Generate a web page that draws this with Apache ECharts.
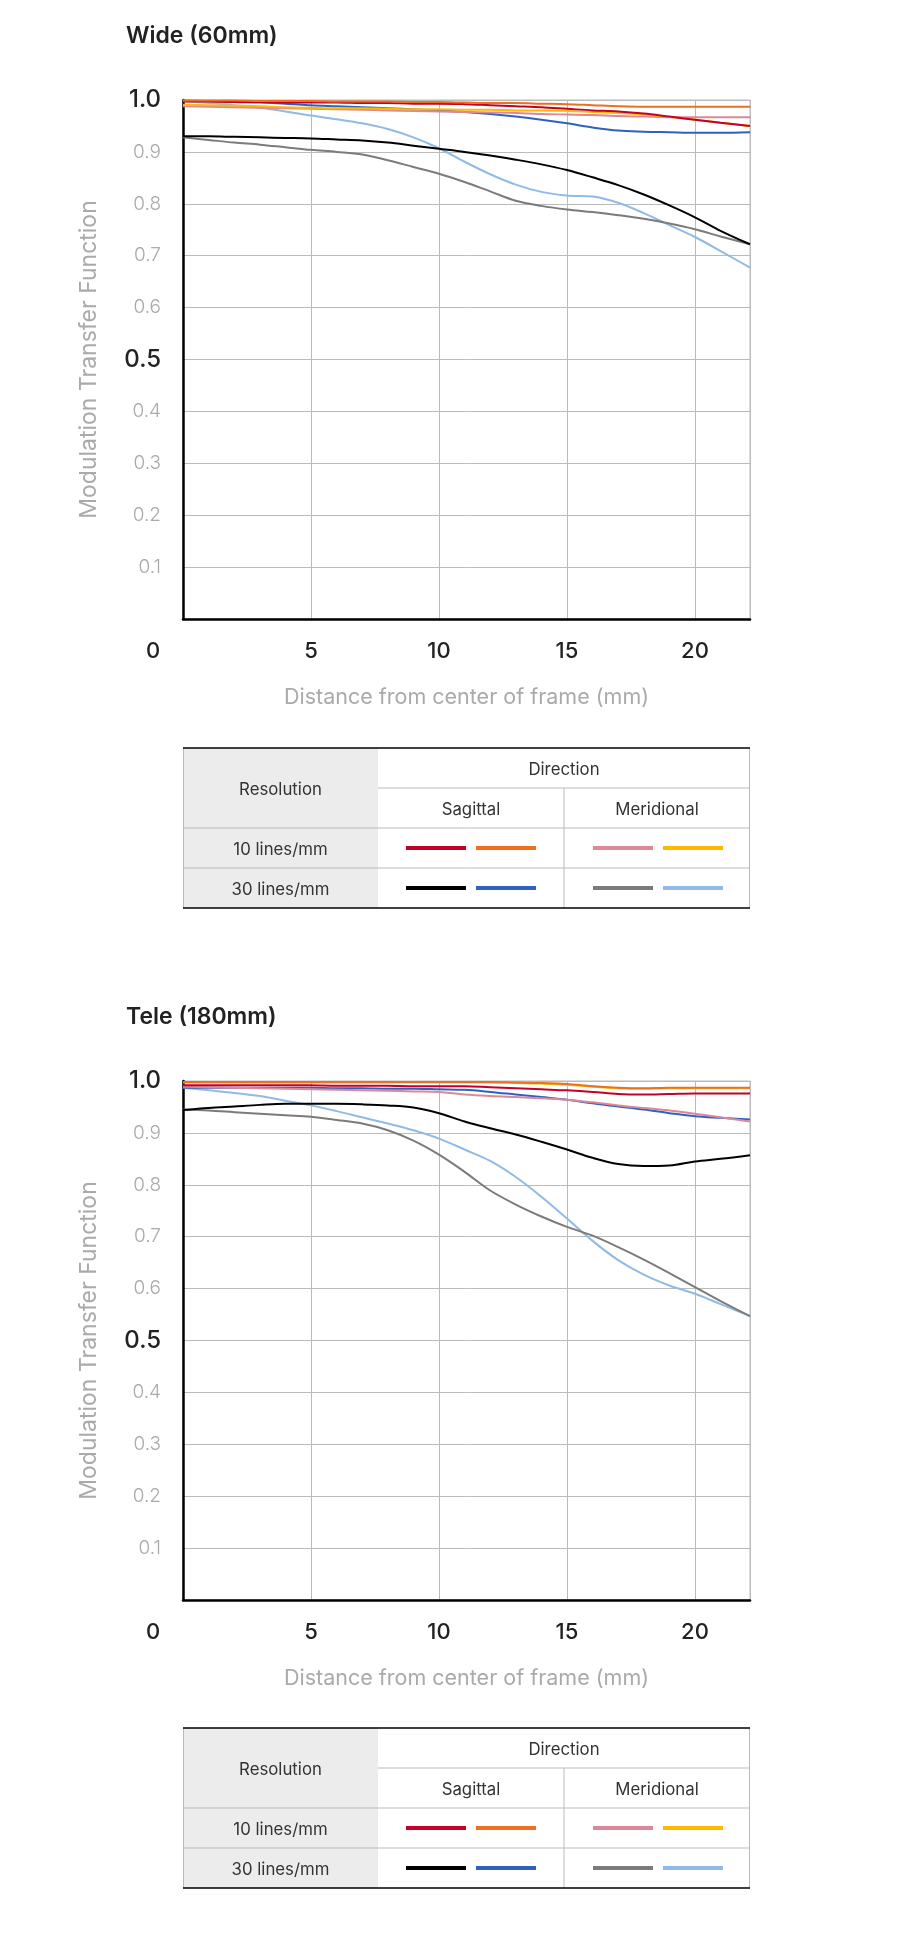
<!DOCTYPE html>
<html>
<head>
<meta charset="utf-8">
<script src="https://cdn.jsdelivr.net/npm/echarts@6/dist/echarts.min.js"></script>
<style>
  html, body { margin: 0; padding: 0; background: #fff; }
  #main { width: 900px; height: 1955px; }
</style>
</head>
<body>
<div id="main"></div>
<script>
// distance from center of frame (mm)
var dist = [0, 1, 2, 3, 4, 5, 6, 7, 8, 9, 10, 11, 12, 13, 14, 15, 16, 17, 18, 19, 20, 21, 22.15]

// Wide (60mm)
var wideSag10a = [.997, .997, .996, .996, .995, .995, .995, .994, .994, .993, .993, .992, .990, .988, .986, .983, .980, .978, .974, .968, .962, .956, .950]
var wideSag10b = [.999, .999, .999, .998, .998, .998, .997, .997, .997, .996, .996, .995, .994, .994, .993, .992, .990, .988, .987, .987, .987, .987, .987]
var wideMer10a = [.988, .987, .986, .985, .984, .983, .982, .981, .980, .979, .978, .977, .976, .975, .973, .972, .971, .969, .968, .967, .967, .967, .967]
var wideMer10b = [.991, .990, .989, .988, .986, .985, .984, .984, .983, .982, .982, .981, .981, .980, .980, .979, .977, .975, .972, .967, .962, .956, .950]
var wideSag30a = [.930, .930, .929, .928, .927, .926, .924, .922, .918, .912, .906, .900, .893, .885, .876, .865, .851, .836, .818, .797, .774, .748, .722]
var wideSag30b = [.999, .998, .996, .995, .993, .990, .988, .986, .984, .982, .980, .977, .973, .968, .962, .955, .947, .941, .939, .938, .937, .937, .938]
var wideMer30a = [.928, .923, .918, .914, .909, .904, .900, .895, .884, .871, .858, .842, .824, .806, .796, .789, .784, .778, .771, .762, .751, .737, .722]
var wideMer30b = [.998, .994, .990, .985, .978, .970, .963, .955, .944, .928, .907, .881, .857, .837, .823, .816, .814, .802, .782, .759, .736, .709, .677]

// Tele (180mm)
var teleSag10a = [.992, .992, .992, .992, .992, .992, .991, .991, .991, .990, .990, .990, .988, .986, .984, .982, .979, .975, .974, .975, .976, .976, .976]
var teleSag10b = [.998, .998, .998, .998, .998, .998, .998, .998, .998, .998, .998, .998, .998, .997, .996, .994, .990, .987, .986, .987, .987, .987, .987]
var teleMer10a = [.989, .988, .987, .986, .985, .984, .983, .982, .981, .980, .979, .974, .971, .969, .967, .964, .959, .953, .948, .943, .937, .930, .922]
var teleMer10b = [.997, .997, .997, .997, .997, .997, .997, .997, .997, .997, .997, .997, .997, .996, .995, .993, .989, .986, .985, .986, .986, .986, .986]
var teleSag30a = [.944, .948, .951, .954, .956, .956, .956, .955, .953, .949, .938, .922, .909, .897, .883, .868, .852, .840, .836, .837, .845, .850, .857]
var teleSag30b = [.987, .987, .987, .987, .987, .987, .986, .986, .985, .985, .984, .983, .979, .974, .969, .964, .957, .951, .945, .938, .932, .929, .926]
var teleMer30a = [.945, .943, .940, .937, .934, .931, .925, .918, .905, .885, .858, .825, .789, .762, .739, .719, .702, .680, .656, .630, .603, .576, .547]
var teleMer30b = [.987, .982, .977, .971, .962, .953, .942, .930, .918, .905, .889, .868, .846, .815, .777, .735, .692, .655, .627, .606, .590, .570, .547]

var yTicks = ['0.1', '0.2', '0.3', '0.4', '0.5', '0.6', '0.7', '0.8', '0.9', '1.0']
var boldTicks = ['0.5', '1.0']

var colors = {
  sag10a: '#c30029', sag10b: '#ec7020',
  mer10a: '#dc8899', mer10b: '#ffb800',
  sag30a: '#000000', sag30b: '#2f62c0',
  mer30a: '#7b7b7b', mer30b: '#8fbbe4'
}

var FONT = 'Inter, Roboto, sans-serif'

function pairs(arr) {
  return dist.map((d, i) => [d, arr[i]])
}

function lineSeries(name, arr, color, idx) {
  return {
    name: name,
    type: 'line',
    xAxisIndex: idx,
    yAxisIndex: idx,
    data: pairs(arr),
    smooth: 0.35,
    symbol: 'none',
    lineStyle: { color: color, width: 2 },
    silent: true
  }
}

function makeX(idx) {
  return {
    type: 'value', gridIndex: idx, min: 0, max: 22.15, interval: 5,
    axisLine: { show: true, onZero: false, lineStyle: { color: '#000', width: 2.5 } },
    axisTick: { show: false },
    splitLine: { show: true, lineStyle: { color: '#bbb', width: 1 } },
    axisLabel: {
      showMaxLabel: false, margin: 21,
      fontSize: 22, color: '#222', fontFamily: FONT, fontWeight: 500,
      formatter: v => v === 0 ? '{z|0}' : String(v),
      rich: { z: { fontSize: 22, color: '#222', fontFamily: FONT, fontWeight: 500, padding: [0, 60, 0, 0] } }
    },
    name: 'Distance from center of frame (mm)',
    nameLocation: 'middle', nameGap: 68,
    nameTextStyle: { fontSize: 21.5, color: '#aaa', fontFamily: FONT, fontWeight: 400 }
  }
}

function makeY(idx) {
  return {
    type: 'value', gridIndex: idx, min: 0, max: 1, interval: 0.1,
    axisLine: { show: true, onZero: false, lineStyle: { color: '#000', width: 2.5 } },
    axisTick: { show: false },
    splitLine: { show: true, lineStyle: { color: '#bbb', width: 1 } },
    axisLabel: {
      margin: 22,
      formatter: function (v) {
        var s = v.toFixed(1)
        if (yTicks.indexOf(s) < 0) return ''
        return boldTicks.indexOf(s) >= 0 ? '{b|' + s + '}' : '{n|' + s + '}'
      },
      rich: {
        b: { fontSize: 24, color: '#222', fontFamily: FONT, fontWeight: 500 },
        n: { fontSize: 19, color: '#aaa', fontFamily: FONT, fontWeight: 300 }
      }
    },
    name: 'Modulation Transfer Function',
    nameLocation: 'middle', nameGap: 82,
    nameTextStyle: { fontSize: 23, color: '#aaa', fontFamily: FONT, fontWeight: 400 }
  }
}

// legend table drawn as graphic
function table(T) {
  var L = 183, R = 750, C1 = 378, C2 = 564
  var grey = '#bbb'
  var els = []
  els.push({ type: 'rect', shape: { x: L, y: T, width: C1 - L, height: 160 }, style: { fill: '#ececec' } })
  function hl(y, x1, x2, c, w) {
    els.push({ type: 'line', shape: { x1: x1, y1: y, x2: x2, y2: y }, style: { stroke: c, lineWidth: w } })
  }
  function vl(x, y1, y2) {
    els.push({ type: 'line', shape: { x1: x, y1: y1, x2: x, y2: y2 }, style: { stroke: grey, lineWidth: 1 } })
  }
  hl(T + 40, C1, R, grey, 1)
  hl(T + 80, L, R, grey, 1)
  hl(T + 120, L, R, grey, 1)
  vl(C2, T + 40, T + 160)
  vl(L + 0.5, T, T + 160)
  vl(R - 0.5, T, T + 160)
  hl(T, L, R, '#000', 1.5)
  hl(T + 160, L, R, '#000', 1.5)
  function txt(s, x, y) {
    els.push({ type: 'text', x: x, y: y + 1.5, style: { text: s, fill: '#333', font: '16.8px ' + FONT, align: 'center', verticalAlign: 'middle' } })
  }
  txt('Resolution', (L + C1) / 2, T + 40)
  txt('Direction', C2, T + 20)
  txt('Sagittal', (C1 + C2) / 2, T + 60)
  txt('Meridional', (C2 + R) / 2, T + 60)
  txt('10 lines/mm', (L + C1) / 2, T + 100)
  txt('30 lines/mm', (L + C1) / 2, T + 140)
  var rows = [
    [colors.sag10a, colors.sag10b, colors.mer10a, colors.mer10b],
    [colors.sag30a, colors.sag30b, colors.mer30a, colors.mer30b]
  ]
  var xs = [406, 476, 593, 663]
  rows.forEach((row, r) => {
    row.forEach((c, k) => {
      hl(T + 100 + r * 40, xs[k], xs[k] + 60, c, 4)
    })
  })
  return els
}

function seriesFor(idx, d) {
  return [
    lineSeries('Meridional 30 b', d.mer30b, colors.mer30b, idx),
    lineSeries('Meridional 30 a', d.mer30a, colors.mer30a, idx),
    lineSeries('Sagittal 30 b', d.sag30b, colors.sag30b, idx),
    lineSeries('Sagittal 30 a', d.sag30a, colors.sag30a, idx),
    lineSeries('Meridional 10 a', d.mer10a, colors.mer10a, idx),
    lineSeries('Meridional 10 b', d.mer10b, colors.mer10b, idx),
    lineSeries('Sagittal 10 a', d.sag10a, colors.sag10a, idx),
    lineSeries('Sagittal 10 b', d.sag10b, colors.sag10b, idx)
  ]
}

var myChart = echarts.init(document.getElementById('main'), null, { renderer: 'canvas' })
var titleStyle = { fontSize: 23, fontWeight: 600, color: '#222', fontFamily: FONT }
var option = {
  animation: false,
  backgroundColor: '#fff',
  title: [
    { text: 'Wide (60mm)', left: 126, top: 25, padding: 0, textStyle: titleStyle },
    { text: 'Tele (180mm)', left: 126, top: 1006, padding: 0, textStyle: titleStyle }
  ],
  grid: [
    { left: 183, top: 100, width: 567, height: 519, show: true, borderColor: '#bbb', borderWidth: 1 },
    { left: 183, top: 1081, width: 567, height: 519, show: true, borderColor: '#bbb', borderWidth: 1 }
  ],
  xAxis: [makeX(0), makeX(1)],
  yAxis: [makeY(0), makeY(1)],
  series: seriesFor(0, {
    sag10a: wideSag10a, sag10b: wideSag10b, mer10a: wideMer10a, mer10b: wideMer10b,
    sag30a: wideSag30a, sag30b: wideSag30b, mer30a: wideMer30a, mer30b: wideMer30b
  }).concat(seriesFor(1, {
    sag10a: teleSag10a, sag10b: teleSag10b, mer10a: teleMer10a, mer10b: teleMer10b,
    sag30a: teleSag30a, sag30b: teleSag30b, mer30a: teleMer30a, mer30b: teleMer30b
  })),
  graphic: table(748).concat(table(1728))
}
myChart.setOption(option)
</script>
</body>
</html>
